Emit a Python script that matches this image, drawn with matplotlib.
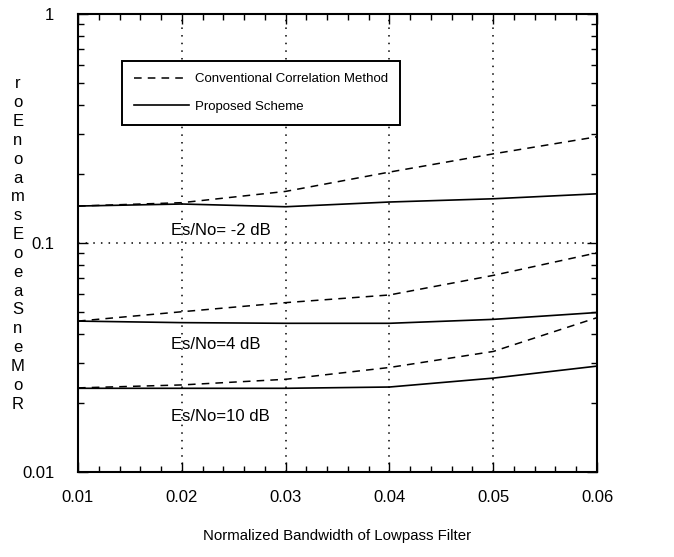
import matplotlib
matplotlib.use("Agg")
import matplotlib.pyplot as plt
from matplotlib.ticker import MultipleLocator, LogLocator, NullFormatter, FixedLocator

plt.rcParams['font.family'] = ['Liberation Sans', 'DejaVu Sans']

# data
bandwidth = [0.01, 0.02, 0.03, 0.04, 0.05, 0.06]
conv_m2 = [0.145, 0.150, 0.168, 0.204, 0.245, 0.291]
prop_m2 = [0.145, 0.148, 0.144, 0.151, 0.156, 0.164]
conv_4 = [0.0456, 0.0501, 0.0549, 0.0593, 0.0722, 0.0906]
prop_4 = [0.0456, 0.0449, 0.0446, 0.0446, 0.0464, 0.0497]
conv_10 = [0.0233, 0.0240, 0.0254, 0.0286, 0.0336, 0.0472]
prop_10 = [0.0232, 0.0232, 0.0232, 0.0235, 0.0257, 0.0290]

x_ticks = [0.01, 0.02, 0.03, 0.04, 0.05, 0.06]
x_ticklabels = ['0.01', '0.02', '0.03', '0.04', '0.05', '0.06']
y_ticks = [0.01, 0.1, 1]
y_ticklabels = ['0.01', '0.1', '1']
snr_labels = ['Es/No= -2 dB', 'Es/No=4 dB', 'Es/No=10 dB']
snr_label_y = [0.113, 0.0361, 0.0175]
ylabel_glyphs = ['r', 'o', 'E', 'n', 'o', 'a', 'm', 's', 'E', 'o', 'e', 'a',
                 'S', 'n', 'e', 'M', 'o', 'R']

fig = plt.figure(figsize=(6.74, 5.57), dpi=100)
ax = fig.add_axes([78 / 674, 1 - 472 / 557, 519 / 674, 458 / 557])

dash = (0, (5, 4))
ax.plot(bandwidth, conv_m2, color='black', lw=1.1, ls=dash, label='Conventional Correlation Method')
ax.plot(bandwidth, prop_m2, color='black', lw=1.2, label='Proposed Scheme')
ax.plot(bandwidth, conv_4, color='black', lw=1.1, ls=dash)
ax.plot(bandwidth, prop_4, color='black', lw=1.2)
ax.plot(bandwidth, conv_10, color='black', lw=1.1, ls=dash)
ax.plot(bandwidth, prop_10, color='black', lw=1.2)

ax.set_yscale('log')
ax.set_xlim(0.01, 0.06)
ax.set_ylim(0.01, 1)

ax.xaxis.set_major_locator(FixedLocator(x_ticks))
ax.set_xticklabels(x_ticklabels)
ax.xaxis.set_minor_locator(MultipleLocator(0.002))
ax.yaxis.set_major_locator(FixedLocator(y_ticks))
ax.set_yticklabels(y_ticklabels)
ax.yaxis.set_minor_locator(LogLocator(base=10, subs=range(2, 10)))
ax.yaxis.set_minor_formatter(NullFormatter())

ax.tick_params(which='both', direction='in', top=True, right=True, labelsize=12, colors='black')
ax.tick_params(which='major', length=7, width=1, pad=13)
ax.tick_params(which='minor', length=4, width=1)
ax.tick_params(axis='y', which='major', pad=17)

ax.grid(True, which='major', color='black', ls=(0, (1, 4)), lw=1.1)
for s in ax.spines.values():
    s.set_linewidth(1.5)

for lab, yv in zip(snr_labels, snr_label_y):
    ax.text(0.0190, yv, lab, fontsize=12, va='center', ha='left')

leg = ax.legend(loc='upper left', bbox_to_anchor=(0.085, 0.897), borderaxespad=0,
                fontsize=9.5, handlelength=4.2, fancybox=False, framealpha=1,
                edgecolor='black', borderpad=0.9, labelspacing=1.15, handletextpad=0.4)
leg.get_frame().set_linewidth(1.4)

ax.set_xlabel('Normalized Bandwidth of Lowpass Filter', fontsize=10.8, labelpad=17)

fig.text(18 / 674, 1 - 244 / 557, '\n'.join(ylabel_glyphs), fontsize=12,
         ha='center', va='center', linespacing=1.32)

fig.savefig('out.png', dpi=100)
